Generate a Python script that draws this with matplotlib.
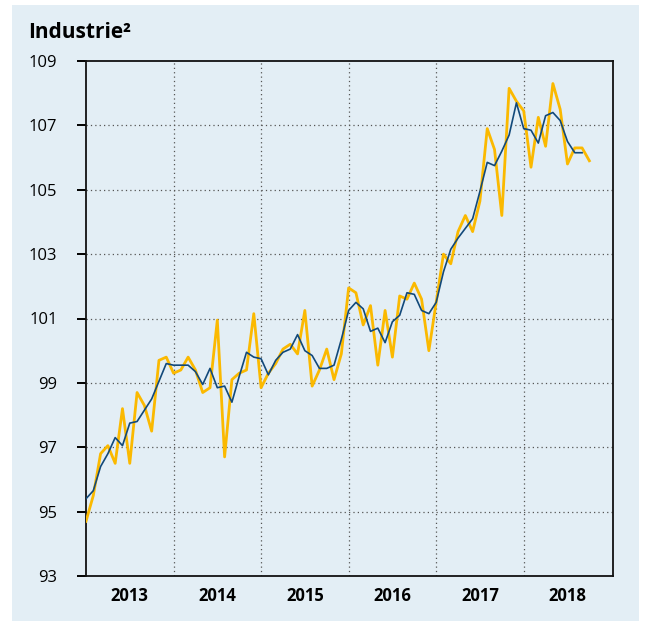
import matplotlib
matplotlib.use("Agg")
import matplotlib.pyplot as plt
import matplotlib.patches as mpatches
import numpy as np

plt.rcParams['font.family'] = ['Open Sans', 'DejaVu Sans']

# monthly values, Jan 2013 onwards
industrie_monat = [94.7, 95.5, 96.8, 97.05, 96.5, 98.2, 96.5, 98.7, 98.3, 97.5, 99.7, 99.8,
                   99.3, 99.4, 99.8, 99.4, 98.7, 98.85, 100.95, 96.7, 99.1, 99.3, 99.4, 101.15,
                   98.85, 99.3, 99.6, 100.05, 100.2, 99.9, 101.25, 98.9, 99.4, 100.05, 99.1, 99.9,
                   101.95, 101.8, 100.8, 101.4, 99.55, 101.25, 99.8, 101.7, 101.6, 102.1, 101.6, 100.0,
                   101.5, 103.0, 102.7, 103.7, 104.2, 103.7, 104.65, 106.9, 106.25, 104.2, 108.15, 107.75,
                   107.45, 105.7, 107.25, 106.35, 108.3, 107.5, 105.8, 106.3, 106.3, 105.9]
industrie_trend = [95.4, 95.65, 96.4, 96.8, 97.3, 97.05, 97.75, 97.8, 98.15, 98.5, 99.05, 99.6,
                   99.55, 99.55, 99.55, 99.35, 98.95, 99.45, 98.85, 98.9, 98.4, 99.2, 99.95, 99.8,
                   99.75, 99.25, 99.7, 99.95, 100.05, 100.5, 100.0, 99.85, 99.45, 99.45, 99.55, 100.35,
                   101.25, 101.5, 101.3, 100.6, 100.7, 100.25, 100.9, 101.1, 101.8, 101.75, 101.25, 101.15,
                   101.5, 102.45, 103.15, 103.5, 103.8, 104.1, 104.95, 105.85, 105.75, 106.2, 106.7, 107.7,
                   106.9, 106.85, 106.45, 107.3, 107.4, 107.15, 106.5, 106.15, 106.15]
jahre = [2013, 2014, 2015, 2016, 2017, 2018]
y_ticks = [93, 95, 97, 99, 101, 103, 105, 107, 109]

bg = "#e3eef5"
gelb = "#fbb900"
blau = "#12497a"

fig = plt.figure(figsize=(6.46, 6.26), dpi=100)
fig.patch.set_facecolor("white")
fig.patches.append(mpatches.Rectangle((12 / 646, 1 - 621 / 626), 627 / 646, 616 / 626,
                                      transform=fig.transFigure, facecolor=bg, edgecolor="none", zorder=-5))

ax = fig.add_axes([86 / 646, 1 - 576 / 626, 527 / 646, 515 / 626])
ax.set_zorder(2)
ax.set_facecolor(bg)

x_monat = [jahre[0] + i / 12 for i in range(len(industrie_monat))]
x_trend = [jahre[0] + i / 12 for i in range(len(industrie_trend))]

ax.plot(x_monat, industrie_monat, color=gelb, linewidth=2.0, zorder=3)
ax.plot(x_trend, industrie_trend, color=blau, linewidth=1.2, zorder=4)

ax.set_xlim(2013, 2019.02)
ax.set_ylim(93, 109)

ax.set_yticks(y_ticks)
ax.tick_params(axis="y", which="major", direction="out", length=6.5, width=1.4,
               labelsize=12, pad=14)
for yv in y_ticks[1:-1]:
    ax.axhline(yv, color="#555555", linestyle=(0, (1, 2.5)), linewidth=0.9, zorder=1)

ax.set_xticks(jahre[1:])
ax.set_xticklabels([])
ax.set_xticks([j + 0.5 for j in jahre], minor=True)
ax.set_xticklabels([str(j) for j in jahre], minor=True, fontweight="bold", fontsize=12)
ax.tick_params(axis="x", which="both", length=0, pad=8)
for j in jahre[1:]:
    ax.axvline(j, color="#555555", linestyle=(0, (1, 2.5)), linewidth=0.9, zorder=1)

for s in ax.spines.values():
    s.set_linewidth(1.3)
    s.set_color("#111111")

fig.text(28 / 646, 1 - 33 / 626, "Industrie\u00b2", fontsize=15, fontweight="bold",
         ha="left", va="center")

fig.savefig("out.png", dpi=100)
